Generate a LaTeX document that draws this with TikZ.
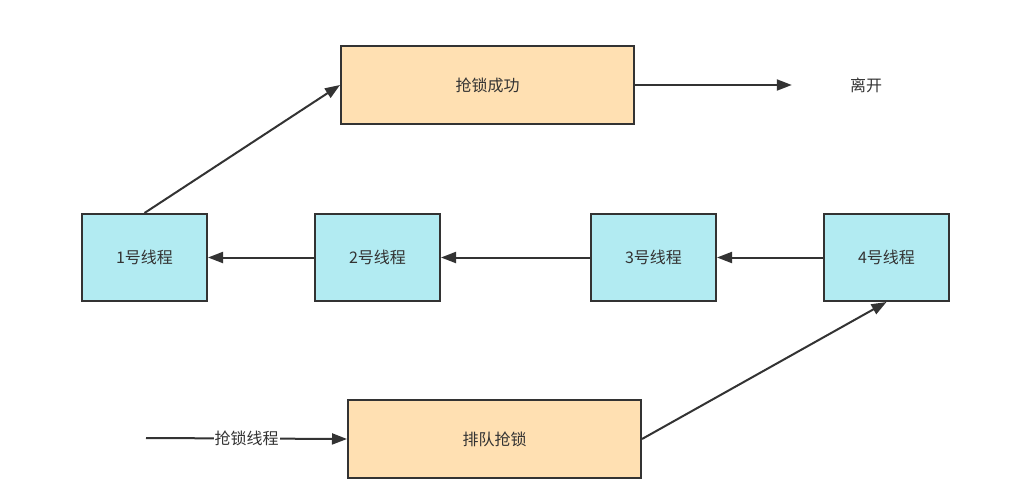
\documentclass[tikz,border=0pt]{standalone}
\usepackage{fontspec}
\setmainfont{Noto Sans CJK SC}
\usetikzlibrary{arrows.meta}
\definecolor{lineC}{HTML}{333333}
\definecolor{orangeF}{HTML}{FFE0B2}
\definecolor{cyanF}{HTML}{B2EBF2}
\begin{document}
\begin{tikzpicture}[x=1pt,y=-1pt,font=\fontsize{16}{19}\selectfont,text=lineC,
  box/.style={shape=rectangle,draw=lineC,line width=2pt,inner sep=0pt},
  stateB/.style={box,fill=orangeF,minimum width=293pt,minimum height=78pt},
  thread/.style={box,fill=cyanF,minimum width=125pt,minimum height=87pt},
  flow/.style={draw=lineC,line width=2pt,-{Triangle[length=15pt,width=11pt]}}]
\def\ty{257.5};
\def\dx{233};

\useasboundingbox (0,0) rectangle (1028,496);

\node[stateB] (succ) at (487.5,85) {抢锁成功};
\node[minimum width=148pt] (leave) at (866,85) {离开};
\draw[flow] (succ.east) -- (leave.west);

\node[thread] (T1) at (144.5,\ty) {1号线程};
\node[thread] (T2) at (144.5+\dx,\ty) {2号线程};
\node[thread] (T3) at (653.5,\ty) {3号线程};
\node[thread] (T4) at (653.5+\dx,\ty) {4号线程};
\draw[flow] (T4.west) -- (T3.east);
\draw[flow] (T3.west) -- (T2.east);
\draw[flow] (T2.west) -- (T1.east);
\draw[flow] (T1.north) -- (succ.west);

\node[stateB] (queue) at (494.5,439) {排队抢锁};
\coordinate (start) at (146,438);
\draw[flow] (start) -- node[fill=white,inner sep=1pt] {抢锁线程} (queue.west);
\draw[flow] (queue.east) -- (T4.south);
\end{tikzpicture}
\end{document}
